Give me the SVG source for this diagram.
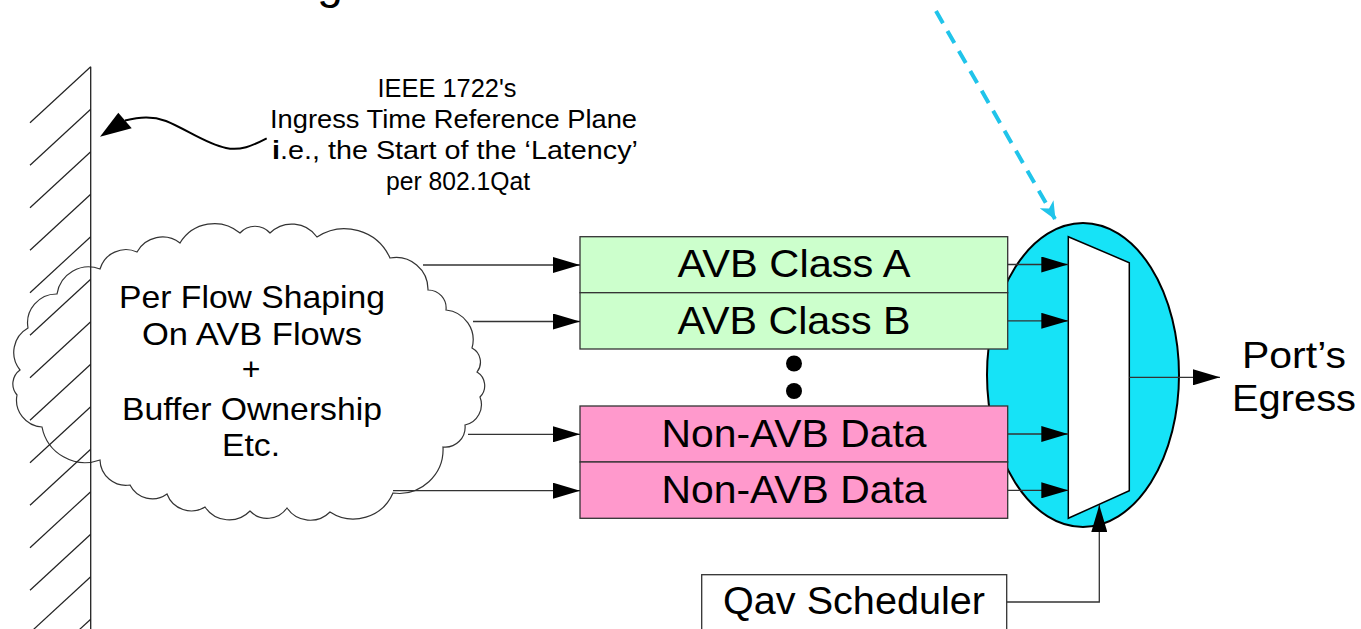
<svg xmlns="http://www.w3.org/2000/svg" width="1361" height="629" viewBox="0 0 1361 629">
<style>
text{font-family:"Liberation Sans",Arial,sans-serif;fill:#000}
.mid{text-anchor:middle}
.hatch{stroke:#222;stroke-width:1.2}
.box{stroke:#333;stroke-width:1.3}
.conn{stroke:#333;stroke-width:1.3;fill:none}
</style>
<defs>
<marker id="ah" markerUnits="userSpaceOnUse" markerWidth="27" markerHeight="16" viewBox="0 0 27 16" refX="27" refY="8" orient="auto">
<path d="M0,0 L27,8 L0,16 z" fill="#000"/>
</marker>
<marker id="ahc" markerUnits="userSpaceOnUse" markerWidth="18" markerHeight="16" viewBox="0 0 18 16" refX="17" refY="8" orient="auto">
<path d="M0,0 L18,8 L0,16 L5,8 z" fill="#20c4ea"/>
</marker>
</defs>
<rect width="1361" height="629" fill="#fff"/>
<text x="330" y="-2" class="mid" font-size="46">g</text>
<g id="cloud">
<path fill="#fff" stroke="#333" stroke-width="1.2" d="M100,460 A44,44 0 0 1 42,427 A27,27 0 0 1 17,395 A17,17 0 0 1 20,370 A28,28 0 0 1 28,328 A29,29 0 0 1 57,294 A32,32 0 0 1 100,269 A27,27 0 0 1 137,252 A29,29 0 0 1 180,243 A40,40 0 0 1 240,233 A20,20 0 0 1 270,233 A31,31 0 0 1 317,237 A50,50 0 0 1 390,258 A32,32 0 0 1 428,290 A18,18 0 0 1 446,310 A30,30 0 0 1 472,348 A16,16 0 0 1 477,372 A16,16 0 0 1 480,397 A21,21 0 0 1 465,425 A20,20 0 0 1 443,447 A44,44 0 0 1 393,493 A43,43 0 0 1 330,512 A28,28 0 0 1 287,508 A24,24 0 0 1 250,511 A29,29 0 0 1 205,507 A26,26 0 0 1 167,494 A25,25 0 0 1 130,485 A26,26 0 0 1 100,460 Z"/>
<text x="252" y="308" class="mid" font-size="32" textLength="266" lengthAdjust="spacingAndGlyphs">Per Flow Shaping</text>
<text x="252" y="345" class="mid" font-size="32" textLength="220" lengthAdjust="spacingAndGlyphs">On AVB Flows</text>
<text x="251" y="380" class="mid" font-size="32">+</text>
<text x="252" y="420" class="mid" font-size="32" textLength="260" lengthAdjust="spacingAndGlyphs">Buffer Ownership</text>
<text x="251" y="456" class="mid" font-size="32" textLength="58" lengthAdjust="spacingAndGlyphs">Etc.</text>
</g>
<g id="wall">
<line x1="90.7" y1="66.7" x2="90.7" y2="629" stroke="#222" stroke-width="1.3"/>
<line class="hatch" x1="90.7" y1="66.7" x2="30" y2="122.7"/>
<line class="hatch" x1="90.7" y1="109.2" x2="30" y2="165.2"/>
<line class="hatch" x1="90.7" y1="151.7" x2="30" y2="207.7"/>
<line class="hatch" x1="90.7" y1="194.2" x2="30" y2="250.2"/>
<line class="hatch" x1="90.7" y1="236.7" x2="30" y2="292.7"/>
<line class="hatch" x1="90.7" y1="279.2" x2="30" y2="335.2"/>
<line class="hatch" x1="90.7" y1="321.7" x2="30" y2="377.7"/>
<line class="hatch" x1="90.7" y1="364.2" x2="30" y2="420.2"/>
<line class="hatch" x1="90.7" y1="406.7" x2="30" y2="462.7"/>
<line class="hatch" x1="90.7" y1="449.2" x2="30" y2="505.2"/>
<line class="hatch" x1="90.7" y1="491.7" x2="30" y2="547.7"/>
<line class="hatch" x1="90.7" y1="534.2" x2="30" y2="590.2"/>
<line class="hatch" x1="90.7" y1="576.7" x2="30" y2="632.7"/>
<line class="hatch" x1="90.7" y1="619.2" x2="30" y2="675.2"/>
</g>
<g id="annotation">
<text x="447" y="97" class="mid" font-size="26" textLength="139" lengthAdjust="spacingAndGlyphs">IEEE 1722's</text>
<text x="453.5" y="128" class="mid" font-size="26" textLength="367" lengthAdjust="spacingAndGlyphs">Ingress Time Reference Plane</text>
<text x="455" y="159" class="mid" font-size="26" textLength="366" lengthAdjust="spacingAndGlyphs"><tspan font-weight="bold">i</tspan>.e., the Start of the ‘Latency’</text>
<text x="458" y="190" class="mid" font-size="26" textLength="144" lengthAdjust="spacingAndGlyphs">per 802.1Qat</text>
</g>
<g id="shaper">
<ellipse cx="1083" cy="375" rx="96" ry="152" fill="#16e3f7" stroke="#000" stroke-width="2"/>
</g>
<g id="avb-class-a">
<rect class="box" x="580" y="236.7" width="427.7" height="56" fill="#ccffcc"/>
<text x="794" y="277" class="mid" font-size="39" textLength="233" lengthAdjust="spacingAndGlyphs">AVB Class A</text>
</g>
<g id="avb-class-b">
<rect class="box" x="580" y="292.7" width="427.7" height="56.3" fill="#ccffcc"/>
<text x="794" y="333.5" class="mid" font-size="39" textLength="233" lengthAdjust="spacingAndGlyphs">AVB Class B</text>
</g>
<g id="ellipsis-dots">
<circle cx="794" cy="363.5" r="8" fill="#000"/>
<circle cx="794" cy="391" r="8" fill="#000"/>
</g>
<g id="non-avb-1">
<rect class="box" x="580" y="406" width="427.7" height="56" fill="#ff99cc"/>
<text x="794" y="447" class="mid" font-size="39" textLength="265" lengthAdjust="spacingAndGlyphs">Non-AVB Data</text>
</g>
<g id="non-avb-2">
<rect class="box" x="580" y="462" width="427.7" height="56.3" fill="#ff99cc"/>
<text x="794" y="503" class="mid" font-size="39" textLength="265" lengthAdjust="spacingAndGlyphs">Non-AVB Data</text>
</g>
<g id="mux">
<polygon points="1068.3,236.7 1129.3,262.7 1129.3,490.7 1068.3,518.3" fill="#fff" stroke="#000" stroke-width="1.5"/>
</g>
<g id="qav-scheduler">
<rect class="box" x="701.7" y="574.7" width="305" height="70" fill="#fff"/>
<text x="854" y="614" class="mid" font-size="38" textLength="262" lengthAdjust="spacingAndGlyphs">Qav Scheduler</text>
</g>
<g id="egress-label">
<text x="1294" y="368" class="mid" font-size="37" textLength="104" lengthAdjust="spacingAndGlyphs">Port’s</text>
<text x="1294" y="411" class="mid" font-size="37" textLength="124" lengthAdjust="spacingAndGlyphs">Egress</text>
</g>
<g id="connectors">
<path d="M266.7,138.3 C252,146 240,151 226,148 C206,144 186,129 166,121 C152,116 140,117 125,120.5" fill="none" stroke="#000" stroke-width="2"/>
<polygon points="100,136.7 118.3,112.7 131.7,128.3" fill="#000"/>
<line class="conn" x1="423" y1="265" x2="580" y2="265" marker-end="url(#ah)"/>
<line class="conn" x1="473" y1="321.5" x2="580" y2="321.5" marker-end="url(#ah)"/>
<line class="conn" x1="468" y1="434.3" x2="580" y2="434.3" marker-end="url(#ah)"/>
<line class="conn" x1="393" y1="490.7" x2="580" y2="490.7" marker-end="url(#ah)"/>
<line class="conn" x1="1007.7" y1="264.5" x2="1068.3" y2="264.5" marker-end="url(#ah)"/>
<line class="conn" x1="1007.7" y1="320.8" x2="1068.3" y2="320.8" marker-end="url(#ah)"/>
<line class="conn" x1="1007.7" y1="434" x2="1068.3" y2="434" marker-end="url(#ah)"/>
<line class="conn" x1="1007.7" y1="490.3" x2="1068.3" y2="490.3" marker-end="url(#ah)"/>
<line class="conn" x1="1129.3" y1="377.3" x2="1220" y2="377.3" marker-end="url(#ah)"/>
<path class="conn" d="M1006.7,602 L1099.3,602 L1099.3,505" marker-end="url(#ah)"/>
<path d="M936,11 L1055,219" fill="none" stroke="#20c4ea" stroke-width="4" stroke-dasharray="14,9" marker-end="url(#ahc)"/>
</g>
</svg>
